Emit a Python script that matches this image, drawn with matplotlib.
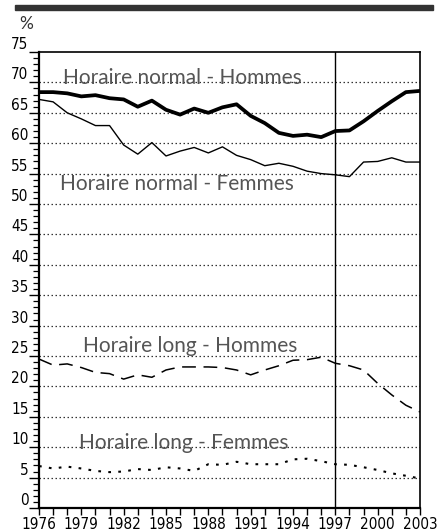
import matplotlib
matplotlib.use("Agg")
import matplotlib.pyplot as plt
from matplotlib import font_manager
from matplotlib.patches import Rectangle
from matplotlib.ticker import MultipleLocator


# Data
years = list(range(1976, 2004))

normal_hommes = [68.4, 68.4, 68.2, 67.7, 67.9, 67.4, 67.2, 66.0, 67.0, 65.5,
                 64.7, 65.7, 65.0, 65.9, 66.4, 64.5, 63.3, 61.7, 61.2, 61.4,
                 61.0, 62.0, 62.1, 63.6, 65.3, 66.9, 68.4, 68.6]

normal_femmes = [67.2, 66.8, 65.0, 64.0, 62.9, 62.9, 59.7, 58.2, 60.1, 57.9,
                 58.7, 59.3, 58.4, 59.4, 58.0, 57.3, 56.3, 56.7, 56.2, 55.4,
                 55.0, 54.8, 54.5, 56.9, 57.0, 57.6, 56.9, 56.9]

long_hommes = [24.5, 23.5, 23.7, 23.1, 22.3, 22.1, 21.2, 21.9, 21.5, 22.7,
               23.2, 23.2, 23.2, 23.1, 22.7, 21.9, 22.7, 23.4, 24.3, 24.4,
               24.8, 23.8, 23.4, 22.7, 20.5, 18.6, 16.9, 15.8]

long_femmes = [6.9, 6.5, 6.8, 6.5, 6.1, 5.9, 6.0, 6.4, 6.25, 6.7,
               6.5, 6.1, 7.2, 7.1, 7.6, 7.2, 7.2, 7.2, 8.0, 8.1,
               7.7, 7.2, 7.1, 6.7, 6.25, 5.7, 5.3, 4.85]

series_labels = ["Horaire normal - Hommes", "Horaire normal - Femmes",
                 "Horaire long - Hommes", "Horaire long - Femmes"]
label_x = [1977.7, 1977.5, 1979.1, 1978.8]
label_y = [70.7, 53.3, 26.6, 10.7]

x_tick_years = list(range(1976, 2004, 3))
y_ticks = list(range(0, 76, 5))
break_year = 1997


# Pick a narrow font for the tick numbers if there is one
def pick_font():
    for f in font_manager.fontManager.ttflist:
        if f.name == "Liberation Sans Narrow":
            return "Liberation Sans Narrow", "normal", 12.5
    for f in font_manager.fontManager.ttflist:
        if f.name == "DejaVu Sans" and f.stretch == "condensed":
            return "DejaVu Sans", "condensed", 11
    return "Liberation Sans", "normal", 11


def plot_chart():
    tick_family, tick_stretch, tick_size = pick_font()
    label_font = ["Lato", "DejaVu Sans"]

    fig = plt.figure(figsize=(4.38, 5.31), dpi=100)
    ax = fig.add_axes([39 / 438, 23 / 531, 381 / 438, 456 / 531])

    # grid lines
    for v in y_ticks[1:-1]:
        ax.axhline(v, color="#333333", lw=0.9, ls=(0, (1.2, 2.0)), zorder=1)

    ax.axvline(break_year, color="black", lw=1.0, zorder=2)

    # series
    ax.plot(years, normal_hommes, color="black", lw=2.7, zorder=3)
    ax.plot(years, normal_femmes, color="black", lw=1.0, zorder=3)
    ax.plot(years, long_hommes, color="black", lw=1.1, ls=(0, (9, 5)), zorder=3)
    ax.plot(years, long_femmes, color="black", lw=1.5, ls=(0, (1.3, 3.5)), zorder=3)

    for text, x, y in zip(series_labels, label_x, label_y):
        ax.text(x, y, text, color="#555555", fontsize=15, family=label_font,
                ha="left", va="center", zorder=4)

    ax.set_xlim(1976, 2003)
    ax.set_ylim(0, 75)

    # y axis: numbers sit on top of the ticks
    ax.set_yticks(y_ticks)
    ax.yaxis.set_minor_locator(MultipleLocator(1))
    ax.tick_params(axis="y", which="major", direction="out", length=7.5,
                   width=1.0, pad=0, labelsize=tick_size)
    ax.tick_params(axis="y", which="minor", direction="out", length=4.3, width=0.9)
    for lab in ax.get_yticklabels():
        lab.set_verticalalignment("bottom")
        lab.set_family(tick_family)
        lab.set_stretch(tick_stretch)

    # x axis
    ax.set_xticks(x_tick_years)
    ax.xaxis.set_minor_locator(MultipleLocator(1))
    ax.tick_params(axis="x", which="both", direction="out", length=5.2,
                   width=1.0, pad=1.5, labelsize=tick_size)
    for lab in ax.get_xticklabels():
        lab.set_family(tick_family)
        lab.set_stretch(tick_stretch)

    for side in ["left", "bottom"]:
        ax.spines[side].set_linewidth(1.6)
    for side in ["top", "right"]:
        ax.spines[side].set_linewidth(1.2)

    # header bar and unit
    fig.add_artist(Rectangle((15 / 438, 1 - 10 / 531), 418 / 438, 5 / 531,
                             transform=fig.transFigure, color="#333333"))
    fig.text(26 / 438, 1 - 24 / 531, "%", ha="center", va="center",
             fontsize=12.5, color="#333333", family=label_font)

    fig.savefig("out.png", dpi=100)


if __name__ == "__main__":
    plot_chart()
